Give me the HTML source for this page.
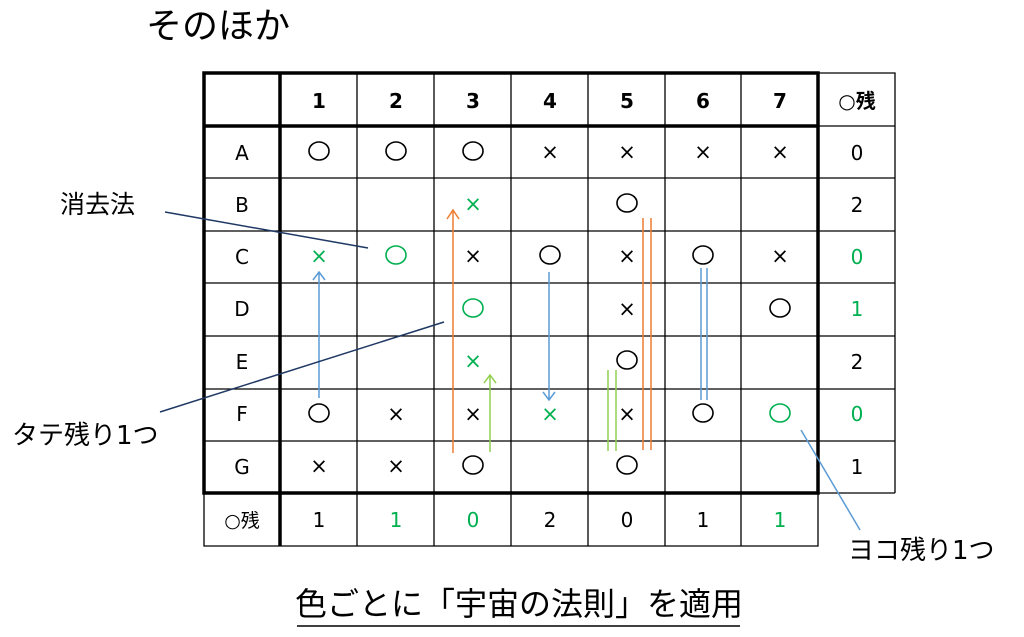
<!DOCTYPE html>
<html><head><meta charset="utf-8"><style>
html,body{margin:0;padding:0;background:#fff;width:1024px;height:637px;overflow:hidden}
svg text{font-family:"DejaVu Sans","Noto Sans CJK JP",sans-serif}
</style></head><body>
<svg width="1024" height="637" viewBox="0 0 1024 637" xmlns="http://www.w3.org/2000/svg">
<text x="146" y="38" font-size="36" fill="#000">そのほか</text>
<g stroke="#000" stroke-width="1.3" fill="none">
<path d="M818 73H895V493M895 126H818M895 178H818M895 231H818M895 283H818M895 336H818M895 389H818M895 441H818M895 493H818"/>
<path d="M204 493V546H818V493M357 493V546M434 493V546M511 493V546M588 493V546M665 493V546M741 493V546"/>
<path d="M357 73V493M434 73V493M511 73V493M588 73V493M665 73V493M741 73V493"/>
<path d="M204 178H818M204 231H818M204 283H818M204 336H818M204 389H818M204 441H818"/>
</g>
<g stroke="#000" stroke-width="3.5" fill="none">
<rect x="204" y="73" width="614" height="420"/>
<path d="M280 73V546M204 126H818"/>
</g>
<g font-size="20" font-weight="bold" text-anchor="middle">
<text x="319" y="108">1</text><text x="396" y="108">2</text><text x="473" y="108">3</text><text x="550" y="108">4</text><text x="627" y="108">5</text><text x="703" y="108">6</text><text x="780" y="108">7</text><text x="857" y="108">○残</text>
</g>
<g font-size="20" text-anchor="middle">
<text x="242" y="160">A</text><text x="242" y="212">B</text><text x="242" y="264">C</text><text x="242" y="316">D</text><text x="242" y="369">E</text><text x="242" y="421">F</text><text x="242" y="474">G</text>
<text x="857" y="160">0</text><text x="857" y="212">2</text><text x="857" y="264" fill="#00b050">0</text><text x="857" y="316" fill="#00b050">1</text><text x="857" y="369">2</text><text x="857" y="421" fill="#00b050">0</text><text x="857" y="474">1</text>
<text x="242" y="527" font-size="19">○残</text>
<text x="319" y="527">1</text><text x="396" y="527" fill="#00b050">1</text><text x="473" y="527" fill="#00b050">0</text><text x="550" y="527">2</text><text x="627" y="527">0</text><text x="703" y="527">1</text><text x="780" y="527" fill="#00b050">1</text>
</g>
<g fill="none" stroke="#000" stroke-width="1.6">
<ellipse cx="319" cy="151" rx="10" ry="9"/><ellipse cx="396" cy="151" rx="10" ry="9"/><ellipse cx="473" cy="151" rx="10" ry="9"/>
<ellipse cx="627" cy="203" rx="10" ry="9"/>
<ellipse cx="550" cy="255" rx="10" ry="9"/><ellipse cx="703" cy="255" rx="10" ry="9"/>
<ellipse cx="780" cy="308" rx="10" ry="9"/>
<ellipse cx="627" cy="360" rx="10" ry="9"/>
<ellipse cx="319" cy="413" rx="10" ry="9"/><ellipse cx="703" cy="413" rx="10" ry="9"/>
<ellipse cx="473" cy="465" rx="10" ry="9"/><ellipse cx="627" cy="465" rx="10" ry="9"/>
</g>
<g fill="none" stroke="#00b050" stroke-width="1.6">
<ellipse cx="396" cy="255" rx="10" ry="9"/><ellipse cx="473" cy="308" rx="10" ry="9"/><ellipse cx="780" cy="413" rx="10" ry="9"/>
</g>
<g font-size="21" text-anchor="middle">
<text x="550" y="159">×</text><text x="627" y="159">×</text><text x="703" y="159">×</text><text x="780" y="159">×</text>
<text x="473" y="211" fill="#00b050">×</text>
<text x="319" y="263" fill="#00b050">×</text><text x="473" y="263">×</text><text x="627" y="263">×</text><text x="780" y="263">×</text>
<text x="627" y="316">×</text>
<text x="473" y="368" fill="#00b050">×</text>
<text x="396" y="421">×</text><text x="473" y="421">×</text><text x="550" y="421" fill="#00b050">×</text><text x="627" y="421">×</text>
<text x="319" y="473">×</text><text x="396" y="473">×</text>
</g>
<g fill="none" stroke-width="1.5">
<path d="M319 398V272M313 280L319 272L325 280" stroke="#5b9bd5"/>
<path d="M453 453V210M447 219L453 210L459 219" stroke="#ed7d31"/>
<path d="M490 452V375M484 383L490 375L496 383" stroke="#92d050"/>
<path d="M549 272V400M543 392L549 400L555 392" stroke="#5b9bd5"/>
<path d="M608 370V451M616 370V451" stroke="#92d050"/>
<path d="M643 218V450M651 218V450" stroke="#ed7d31"/>
<path d="M701 268V400M707 268V400" stroke="#5b9bd5"/>
<path d="M165 212L368 248" stroke="#1f3864"/>
<path d="M160 412L444 322" stroke="#1f3864"/>
<path d="M801 430L860 530" stroke="#5b9bd5"/>
</g>
<text x="60" y="213" font-size="25">消去法</text>
<text x="12" y="444" font-size="26">タテ残り1つ</text>
<text x="848" y="559" font-size="26">ヨコ残り1つ</text>
<text x="519" y="615" font-size="32" text-anchor="middle">色ごとに「宇宙の法則」を適用</text>
<path d="M297 626H740" stroke="#000" stroke-width="1.5"/>
</svg>
</body></html>
